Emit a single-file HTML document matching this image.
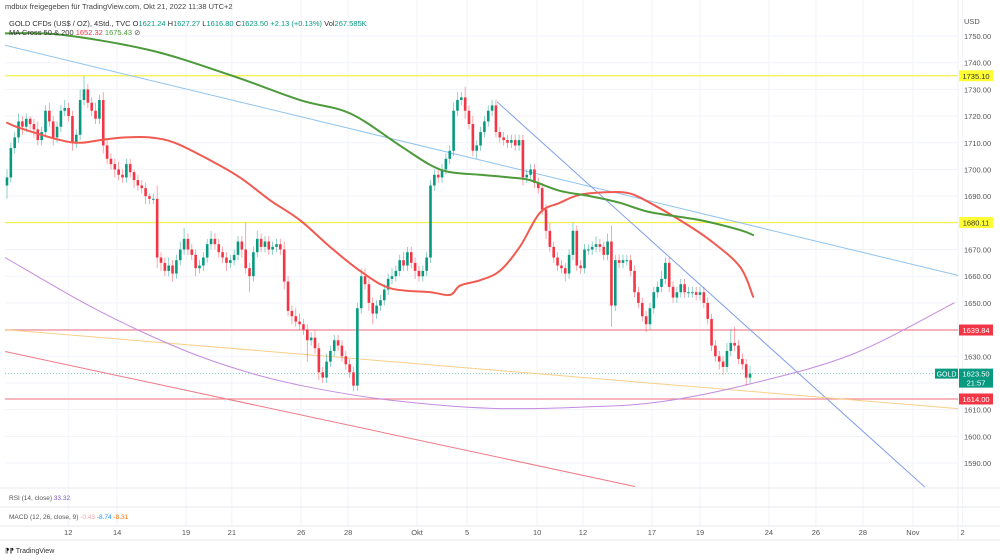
<!DOCTYPE html>
<html><head><meta charset="utf-8"><style>
body{margin:0;background:#fff;font-family:"Liberation Sans",sans-serif;}
#wrap{position:relative;width:1000px;height:560px;overflow:hidden;}
svg text{font-family:"Liberation Sans",sans-serif;}
</style></head><body>
<div id="wrap">
<svg id="chart" width="1000" height="560"></svg>
</div>
<script>
const closes=[1697,1708,1712,1718,1716,1719,1717,1715,1711,1714,
1722,1718,1712,1716,1722,1723,1720,1710,1713,1726,
1730,1725,1722,1719,1726,1709,1704,1702,1700,1698,
1697,1702,1699,1696,1694,1693,1690,1689,1689,1667,
1665,1662,1664,1661,1666,1670,1674,1670,1668,1663,
1664,1667,1672,1674,1672,1669,1667,1665,1666,1668,
1673,1670,1663,1660,1669,1674,1671,1673,1670,1671,
1672,1670,1658,1647,1645,1643,1642,1640,1636,1637,
1633,1624,1622,1628,1632,1636,1634,1630,1627,1624,
1619,1648,1660,1657,1650,1646,1649,1651,1655,1659,
1660,1662,1666,1664,1669,1665,1662,1660,1662,1667,
1694,1698,1697,1700,1704,1707,1722,1726,1727,1722,
1717,1707,1709,1714,1718,1722,1724,1714,1712,1711,
1710,1711,1709,1711,1697,1698,1700,1695,1693,1685,
1677,1671,1667,1664,1663,1661,1668,1677,1664,1663,
1670,1670,1671,1672,1671,1668,1673,1649,1666,1665,
1666,1666,1662,1654,1650,1645,1642,1648,1654,1656,
1659,1665,1656,1652,1654,1657,1654,1654,1654,1653,
1654,1650,1644,1634,1630,1628,1626,1632,1635,1634,
1629,1627,1622,1623.5];
const upWick=[3,2,2,3,2,2,1,2,3,2, 2,3,2,2,2,3,2,2,2,4, 5,2,2,3,2,3,2,2,2,3, 2,2,2,1,2,2,2,1,2,5,
2,2,3,2,2,3,4,2,2,2, 2,2,2,3,2,2,2,2,2,2, 2,2,10,2,2,3,2,2,2,2, 2,2,3,2,2,3,3,2,2,2,
3,2,2,3,2,2,2,2,2,2, 2,2,3,3,2,2,2,2,2,2, 3,2,2,3,2,2,2,2,2,2, 2,2,2,2,2,2,3,3,2,4,
2,3,2,2,2,2,2,2,2,2, 2,2,2,2,2,2,2,2,2,2, 2,3,2,2,2,2,2,3,2,2, 2,2,2,3,2,2,3,6,2,2,
2,2,2,2,2,2,2,2,2,2, 3,2,2,2,2,2,2,2,2,2, 2,2,2,2,2,2,2,3,5,6, 2,2,2,3];
const lowWick=[5,2,2,2,3,2,2,3,2,2, 2,2,3,2,2,2,2,3,2,2, 2,2,2,2,2,3,2,2,3,2, 2,2,2,3,2,2,3,2,2,4,
3,2,2,3,2,2,2,2,2,3, 2,2,2,2,2,2,2,3,2,2, 2,3,2,6,2,2,2,2,2,2, 2,2,3,2,3,2,2,2,8,2,
2,3,2,2,2,2,2,2,2,2, 2,2,2,2,3,4,2,2,2,2, 2,2,2,2,2,2,3,2,2,2, 2,2,2,2,2,2,2,2,2,3,
2,2,3,2,2,2,2,2,2,2, 2,2,2,2,3,2,2,2,2,2, 3,2,2,2,2,3,2,2,2,2, 2,2,2,2,2,2,2,8,2,2,
2,2,2,2,2,2,3,2,2,2, 2,2,2,2,2,2,2,2,2,2, 2,2,2,2,2,3,3,2,2,2, 2,2,3,2];
const ma50Idx=[0,3.4,13.8,19,24.2,30.7,37.1,43.6,52.7,60.5,68.3,76.1,83.9,91.7,99.5,110,115.1,117.7,122.9,128,133.2,138.4,143.6,148.8,156.6,161.8,167,174.8,182.6,190.4,193.8];
const ma50Val=[1717.5,1715.5,1711,1710,1711,1712,1712,1710,1703.5,1697,1688.5,1681,1671,1662,1655.5,1654,1653,1656.5,1658.5,1662,1671,1683.7,1687.5,1690.5,1691.5,1691,1687.5,1681,1673.5,1663.5,1652.3];
const ma200Idx=[-0.5,13.8,37.1,57.9,76.1,89.1,102,109.9,115.1,122.9,130.6,135.8,143.6,151.4,159.2,167,180,190.4,193.8];
const ma200Val=[1751,1750.5,1744.7,1735.4,1726,1721,1709,1701.7,1699,1698,1697,1696,1692,1690,1687.5,1684,1681,1677.3,1675.4];
const arcIdx=[-0.5,20,35.3,50,65,80,100,126,150,170,194,220,246];
const arcVal=[1667,1650,1639,1630,1623,1618,1613.5,1610.5,1611,1613,1620,1631,1650];
const hLevels=[1735.10,1680.11,1639.84,1614.00];
const priceTicks=[1590,1600,1610,1620,1630,1640,1650,1660,1670,1680,1690,1700,1710,1720,1730,1740,1750];
const timeLabels=["12","14","19","21","26","28","Okt","5","10","12","17","19","24","26","28","Nov","2"];
const timeIdx=[15.9,28.6,46.5,58.4,76.4,88.6,106.5,119.5,137.7,149.6,167.5,180,197.9,210.1,222.3,235.3,248.2];
const lastPrice=1623.50;

const NS="http://www.w3.org/2000/svg";
const svg=document.getElementById('chart');
const X=i=>7+i*3.85;
const Y=p=>36+(1750-p)*2.669;
const PL=5,PR=958,PB=488;
function mk(tag,attrs,parent){const e=document.createElementNS(NS,tag);for(const k in attrs)e.setAttribute(k,attrs[k]);(parent||svg).appendChild(e);return e;}
const clip=mk('clipPath',{id:'cp'});mk('rect',{x:PL,y:0,width:PR-PL,height:PB},clip);
const grid=mk('g',{});


priceTicks.forEach(p=>{mk('line',{x1:PL,x2:PR,y1:Y(p),y2:Y(p),stroke:'#f0f3fa','stroke-width':1},grid);
const t=mk('text',{x:964,y:Y(p)+3,'font-size':7.5,fill:'#555'});t.textContent=p.toFixed(2);

});
timeIdx.forEach((ti,k)=>{mk('line',{x1:X(ti),x2:X(ti),y1:0,y2:526,stroke:'#f0f3fa'},grid);
const t=mk('text',{x:X(ti),y:535,'font-size':7.5,fill:'#555','text-anchor':'middle'});t.textContent=timeLabels[k];

});
[488,507,526,540].forEach(y=>mk('line',{x1:0,x2:1000,y1:y,y2:y,stroke:'#e6e8ee'},grid));
mk('line',{x1:PR,x2:PR,y1:0,y2:540,stroke:'#eef0f4'},grid);
const usd=mk('text',{x:964,y:24,'font-size':7.5,fill:'#555'});usd.textContent='USD';


const plot=mk('g',{'clip-path':'url(#cp)'});


const hCol=['#f5f04a','#f5f04a','#f08a95','#f08a95'];
hLevels.forEach((v,k)=>{const l=mk('line',{x1:PL,x2:PR,y1:Y(v),y2:Y(v),stroke:hCol[k],'stroke-width':1.2},plot);

});
mk('line',{x1:PL,x2:PR,y1:Y(lastPrice),y2:Y(lastPrice),stroke:'#7fcbbf','stroke-dasharray':'1,2'},plot);
function tline(i1,p1,i2,p2,col,name){const l=mk('line',{x1:X(i1),y1:Y(p1),x2:X(i2),y2:Y(p2),stroke:col,'stroke-width':1},plot);

}
tline(-1,1746.7,247,1660.3,'#8fc3ee','upper-trend-line');
tline(127.3,1725.3,238.4,1581,'#7f9ee8','steep-trend-line');
tline(-0.5,1640,247,1610.4,'#f9cf8a','orange-trend-line');
tline(-0.5,1631.8,163.1,1581.2,'#ee7a86','red-trend-line');
function smooth(idx,val,col,w,name){const P=idx.map((v,k)=>[X(v),Y(val[k])]);
let d='M'+P[0][0]+','+P[0][1];
for(let k=0;k<P.length-1;k++){const p0=P[k-1]||P[k],p1=P[k],p2=P[k+1],p3=P[k+2]||p2;
d+=' C'+(p1[0]+(p2[0]-p0[0])/6)+','+(p1[1]+(p2[1]-p0[1])/6)+' '+(p2[0]-(p3[0]-p1[0])/6)+','+(p2[1]-(p3[1]-p1[1])/6)+' '+p2[0]+','+p2[1];}
const l=mk('path',{d:d,fill:'none',stroke:col,'stroke-width':w,'stroke-linecap':'round'},plot);

}
smooth(arcIdx,arcVal,'#c58be0',1,'regression-arc');
const cg=mk('g',{},plot);


closes.forEach((c,i)=>{const o=i?closes[i-1]:1694;const up=c>=o;const col=up?'#089981':'#f23645';
const hi=Math.max(o,c)+upWick[i],lo=Math.min(o,c)-lowWick[i];
const g=mk('g',{},cg);


mk('line',{x1:X(i),x2:X(i),y1:Y(hi),y2:Y(lo),stroke:col,'stroke-width':0.8,opacity:0.55},g);
const top=Y(Math.max(o,c)),h=Math.max(1,Y(Math.min(o,c))-top);
mk('rect',{x:X(i)-1.3,y:top,width:2.6,height:h,fill:col},g);});
smooth(ma50Idx,ma50Val,'#f05a50',2,'ma50-line');
smooth(ma200Idx,ma200Val,'#4c9a3a',2,'ma200-line');
function plabel(v,bg,fg,name){const g=mk('g',{});


mk('rect',{x:959,y:Y(v)-5.5,width:34,height:11,fill:bg},g);
const t=mk('text',{x:976,y:Y(v)+3,'font-size':7.5,fill:fg,'text-anchor':'middle'},g);t.textContent=v.toFixed(2);}
plabel(1735.10,'#ffff33','#333','level-label-1735');
plabel(1680.11,'#ffff33','#333','level-label-1680');
plabel(1639.84,'#f23645','#fff','level-label-1639');
plabel(1614.00,'#f23645','#fff','level-label-1614');
const lg=mk('g',{});


mk('rect',{x:959,y:Y(lastPrice)-5,width:34,height:19,fill:'#089981'},lg);
let t=mk('text',{x:976,y:Y(lastPrice)+3,'font-size':7.5,fill:'#fff','text-anchor':'middle'},lg);t.textContent=lastPrice.toFixed(2);
t=mk('text',{x:976,y:Y(lastPrice)+12,'font-size':7.5,fill:'#fff','text-anchor':'middle'},lg);t.textContent='21:57';
mk('rect',{x:935,y:Y(lastPrice)-5,width:23,height:10,fill:'#089981'},lg);
t=mk('text',{x:946.5,y:Y(lastPrice)+3,'font-size':7,fill:'#fff','text-anchor':'middle'},lg);t.textContent='GOLD';
function txt(x,y,s,parts,name){const e=mk('text',{x:x,y:y,'font-size':s,fill:'#444'});


parts.forEach(p=>{const sp=mk('tspan',{fill:p[1]},e);sp.textContent=p[0];});}
txt(5,9,7.5,[['mdbux freigegeben für TradingView.com, Okt 21, 2022 11:38 UTC+2','#444']],'share-caption');
txt(9,26,7.5,[['GOLD CFDs (US$ / OZ), 4Std., TVC  O','#333'],['1621.24','#089981'],['  H','#333'],['1627.27','#089981'],['  L','#333'],['1616.80','#089981'],['  C','#333'],['1623.50','#089981'],['  +2.13 (+0.13%)','#089981'],['  Vol','#333'],['267.585K','#089981']],'ohlc-legend');
txt(9,35,7.5,[['MA Cross 50 & 200  ','#333'],['1652.32','#f23645'],['  1675.43','#4c9a3a'],['  ⊘','#555']],'ma-legend');
txt(9,500,6.5,[['RSI (14, close)  ','#555'],['33.32','#7e57c2']],'rsi-legend');
txt(9,519,6.5,[['MACD (12, 26, close, 9)  ','#555'],['-0.43','#f7a8b0'],['  -8.74','#2196f3'],['  -8.31','#ff6d00']],'macd-legend');
txt(5,553,7,[['⁋⁋ ','#111'],['TradingView','#333']],'tradingview-logo');
</script>
</body></html>
